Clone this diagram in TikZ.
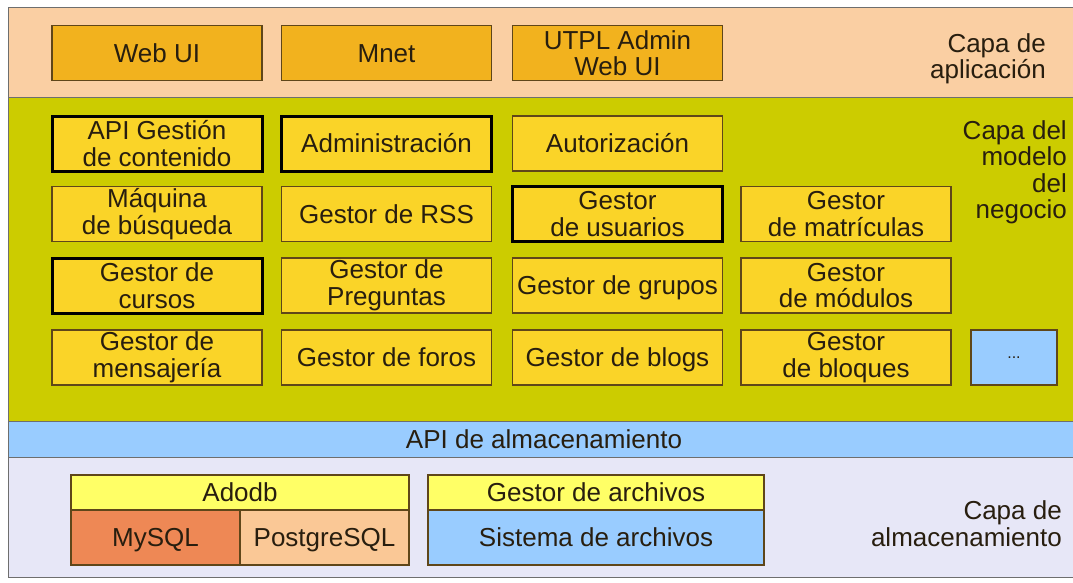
\documentclass[tikz,border=0pt]{standalone}
\usepackage{fontspec}
\setmainfont{Liberation Sans}
\definecolor{appbg}{RGB}{250,207,163}
\definecolor{appbox}{RGB}{242,178,30}
\definecolor{bizbg}{RGB}{204,204,0}
\definecolor{bizbox}{RGB}{250,212,40}
\definecolor{skyblue}{RGB}{153,204,255}
\definecolor{storebg}{RGB}{231,231,247}
\definecolor{hdryellow}{RGB}{255,255,102}
\definecolor{mysqlc}{RGB}{238,136,85}
\definecolor{pgc}{RGB}{250,200,150}
\definecolor{edgebrown}{RGB}{95,70,25}
\definecolor{inkdark}{RGB}{40,30,15}
\definecolor{framegray}{RGB}{110,110,110}
\begin{document}
\begin{tikzpicture}[x=1pt,y=-1pt,
  every node/.style={font=\fontsize{26}{26.5}\selectfont, text=inkdark, align=center, inner sep=0pt},
  oneline/.style={text height=18.6pt, text depth=0pt},
  box/.style={draw=edgebrown, line width=1.4pt, rectangle, minimum height=55pt},
  appmod/.style={box, fill=appbox, minimum width=210pt},
  bizmod/.style={box, fill=bizbox, minimum width=210pt},
  keymod/.style={bizmod, draw=black, line width=3pt},
  stormod/.style={box, minimum width=169pt, oneline},
  layerlabel/.style={anchor=east, align=right},
  layer/.style={draw=framegray, line width=1pt}
]
\useasboundingbox (0,0) rectangle (1073,582);
\fill[white] (0,0) rectangle (1073,582);

% layers
\filldraw[layer, fill=appbg] (8,7) rectangle (1075,97);
\filldraw[layer, fill=bizbg] (8,97) rectangle (1075,421);
\node[layer, fill=skyblue, minimum width=1067pt, minimum height=36pt, anchor=north west] (apistore) at (8,421) {};
\node[oneline] (apitext) at (544,439) {API de almacenamiento};
\filldraw[layer, fill=storebg] (8,457) rectangle (1075,577);

% application layer
\node[appmod, oneline] (webui) at (157,53) {Web UI};
\node[appmod, oneline] (mnet) at (386.5,53) {Mnet};
\node[appmod] (utpl) at (617.5,53) {UTPL Admin\\Web UI};
\node[layerlabel] (lapp) at (1046,59) {Capa de\\aplicación};

% business model layer
\node[keymod] (apigc) at (157,143.5) {API Gestión\\de contenido};
\node[keymod, oneline] (admin) at (386.5,143.5) {Administración};
\node[bizmod, oneline] (autor) at (617.5,143.5) {Autorización};

\node[bizmod] (busq) at (157,214) {Máquina\\de búsqueda};
\node[bizmod, oneline] (rss) at (386.5,214) {Gestor de RSS};
\node[keymod] (usu) at (617.5,214) {Gestor\\de usuarios};
\node[bizmod] (matr) at (846,214) {Gestor\\de matrículas};

\node[keymod] (cursos) at (157,285.5) {Gestor de\\cursos};
\node[bizmod] (preg) at (386.5,285.5) {Gestor de\\Preguntas};
\node[bizmod, oneline] (grupos) at (617.5,285.5) {Gestor de grupos};
\node[bizmod] (modu) at (846,285.5) {Gestor\\de módulos};

\node[bizmod] (mens) at (157,357.5) {Gestor de\\mensajería};
\node[bizmod, oneline] (foros) at (386.5,357.5) {Gestor de foros};
\node[bizmod, oneline] (blogs) at (617.5,357.5) {Gestor de blogs};
\node[bizmod] (bloq) at (846,357.5) {Gestor\\de bloques};
\node[box, fill=skyblue, minimum width=86pt, font=\fontsize{16}{16}\selectfont] (more) at (1014,357.5) {...};

\node[layerlabel] (lbiz) at (1067,172.5) {Capa del\\modelo\\del\\negocio};

% storage layer
\node[box, fill=hdryellow, minimum width=338pt, minimum height=35pt, oneline] (adodb) at (240,492.5) {Adodb};
\node[stormod, fill=mysqlc] (mysql) at (155.5,537.5) {MySQL};
\node[stormod, fill=pgc] (pgsql) at (324.5,537.5) {PostgreSQL};
\node[box, fill=hdryellow, minimum width=336pt, minimum height=35pt, oneline] (garch) at (596,492.5) {Gestor de archivos};
\node[box, fill=skyblue, minimum width=336pt, oneline] (sarch) at (596,537.5) {Sistema de archivos};

\node[layerlabel] (lstore) at (1062,523.5) {Capa de\\almacenamiento};
\end{tikzpicture}
\end{document}
